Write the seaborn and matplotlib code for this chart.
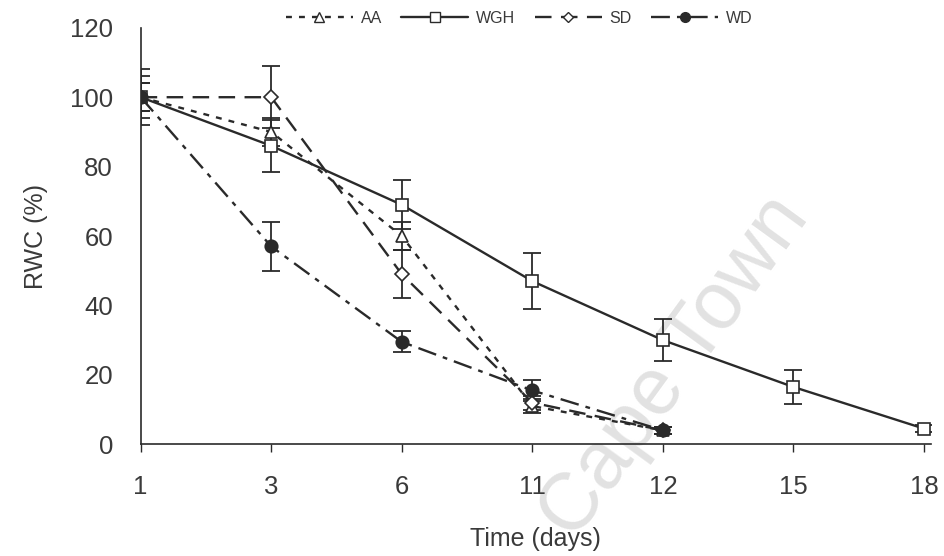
import numpy as np
import pandas as pd
import matplotlib
matplotlib.use("Agg")
import matplotlib.pyplot as plt
import seaborn as sns
from matplotlib.lines import Line2D

days = ["1", "3", "6", "11", "12", "15", "18"]
aa_vals = [100, 90, 60, 11, 4, np.nan, np.nan]
aa_err = [4, 4, 4, 2, 1, np.nan, np.nan]
wgh_vals = [100, 86, 69, 47, 30, 16.5, 4.5]
wgh_err = [6, 7.5, 7, 8, 6, 5, 1]
sd_vals = [100, 100, 49, 12, 4, np.nan, np.nan]
sd_err = [4, 9, 7, 2, 1, np.nan, np.nan]
wd_vals = [100, 57, 29.5, 15.5, 4, np.nan, np.nan]
wd_err = [8, 7, 3, 3, 1, np.nan, np.nan]

sns.set_style("white")
plt.rcParams['font.family'] = ['Liberation Sans', 'DejaVu Sans']

ink = "#2a2a2a"
txt = "#3a3a3a"

fig = plt.figure(figsize=(9.44, 5.56), dpi=100)
ax = fig.add_axes([0.149, 0.201, 0.8367, 0.749])
ax.patch.set_alpha(0)

# watermark (behind the axes)
fig.text(0.715, 0.34, "Cape Town", rotation=54, fontsize=58, color="#e2e2e2",
         ha="center", va="center", zorder=-1)

pos = np.arange(len(days))
series = [
    ("AA", aa_vals, aa_err, "^", (0, (2.5, 3)), "white"),
    ("WGH", wgh_vals, wgh_err, "s", "-", "white"),
    ("SD", sd_vals, sd_err, "D", (0, (7, 4)), "white"),
    ("WD", wd_vals, wd_err, "o", (0, (8, 3, 2, 3)), ink),
]
handles = []
for name, vals, err, mk, ls, fc in series:
    df = pd.DataFrame({"x": pos, "y": vals, "e": err}).dropna()
    ax.errorbar(df["x"], df["y"], yerr=df["e"], fmt="none", ecolor=ink,
                elinewidth=1.3, capsize=6.5, capthick=1.3, zorder=2)
    ms = 7.5 if mk == "D" else 9
    sns.lineplot(data=df, x="x", y="y", ax=ax, color=ink, linewidth=1.7,
                 linestyle=ls, marker=mk, markersize=ms, markerfacecolor=fc,
                 markeredgecolor=ink, markeredgewidth=1.2, zorder=3)
    handles.append(Line2D([], [], color=ink, linewidth=1.7, linestyle=ls,
                          marker=mk, markersize=ms - 2, markerfacecolor=fc,
                          markeredgecolor=ink, markeredgewidth=1.0, label=name))

ax.set_xlim(0, 6.05)
ax.set_ylim(0, 120)
ax.set_xticks(pos)
ax.set_xticklabels(days)
ax.set_yticks([0, 20, 40, 60, 80, 100, 120])
for s in ["top", "right"]:
    ax.spines[s].set_visible(False)
for s in ["left", "bottom"]:
    ax.spines[s].set_color(ink)
    ax.spines[s].set_linewidth(1.2)
ax.tick_params(axis="both", which="both", direction="out", length=6, width=1,
               color=ink, labelcolor=txt, labelsize=18.5)
ax.tick_params(axis="y", pad=14)
ax.tick_params(axis="x", pad=16, bottom=True)
ax.set_xlabel("Time (days)", fontsize=18, color=txt, labelpad=20)
ax.set_ylabel("RWC (%)", fontsize=18, color=txt, labelpad=16)

fig.legend(handles=handles, loc="center", bbox_to_anchor=(0.55, 0.967),
           ncol=4, frameon=False, fontsize=11.5, handlelength=4.2,
           columnspacing=1.2, handletextpad=0.5, labelcolor=txt)

fig.savefig("out.png", dpi=100, facecolor="white")
